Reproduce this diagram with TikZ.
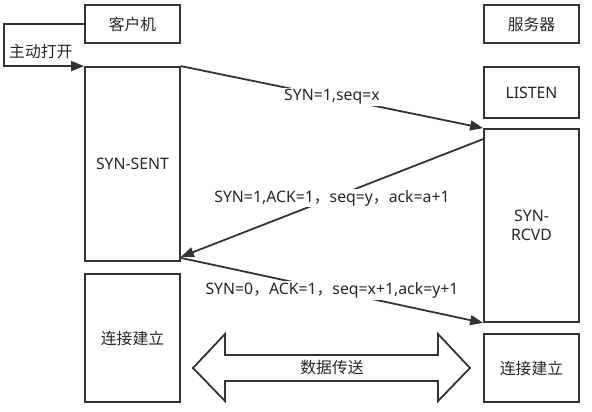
\documentclass[tikz,border=0pt]{standalone}
\usepackage{fontspec}
\setmainfont{Noto Sans}
\newfontfamily\cjk{Noto Sans CJK SC}
\usetikzlibrary{arrows.meta}
\begin{document}
\begin{tikzpicture}[x=1pt, y=-1pt, font=\fontsize{15.8}{19}\selectfont, text=black!85,
    box/.style={draw=black!80, line width=1.8pt, minimum width=95pt, inner sep=0pt},
    link/.style={draw=black!80, line width=1.8pt, -{Triangle[length=13pt,width=10pt]}},
    lbl/.style={fill=white, inner sep=1.5pt}]
    \useasboundingbox (0,0) rectangle (592,412);
    % Nodes
    \node[box, minimum height=38pt] (client) at (132.5,24) {\cjk 客户机};
    \node[box, minimum height=194pt] (synsent) at (132.5,164) {SYN-SENT};
    \node[box, minimum height=128pt] (cest) at (132.5,338) {\cjk 连接建立};
    \node[box, minimum height=38pt] (server) at (531.5,24) {\cjk 服务器};
    \node[box, minimum height=51pt] (listen) at (531.5,92.5) {LISTEN};
    \node[box, minimum height=193pt, align=center] (synrcvd) at (531.5,225.5) {SYN-\\RCVD};
    \node[box, minimum height=68pt] (sest) at (531.5,368) {\cjk 连接建立};
    \node[anchor=west, inner sep=0pt] (open) at (9,52) {\cjk 主动打开};
    % Connection
    \draw[link] (client.west) -- ++(-80,0) |- (synsent.north west);
    \draw[link] (synsent.north east) -- node[lbl] (msg1) {SYN=1,seq=x} (synrcvd.north west);
    \draw[link] ([yshift=-11pt]synrcvd.north west) -- node[lbl] (msg2) {SYN=1,ACK=1{\cjk ，}seq=y{\cjk ，}ack=a+1} ([yshift=5pt]synsent.south east);
    \draw[link] ([yshift=4pt]synsent.south east) -- node[lbl] (msg3) {SYN=0{\cjk ，}ACK=1{\cjk ，}seq=x+1,ack=y+1} (synrcvd.south west);
    % Data transfer
    \draw[draw=black!80, line width=1.8pt] (193,368) -- (225,334) -- (225,355) -- (438,355) -- (438,334)
        -- (470,368) -- (438,401) -- (438,381) -- (225,381) -- (225,401) -- cycle;
    \node (data) at (332,368) {\cjk 数据传送};
\end{tikzpicture}
\end{document}
